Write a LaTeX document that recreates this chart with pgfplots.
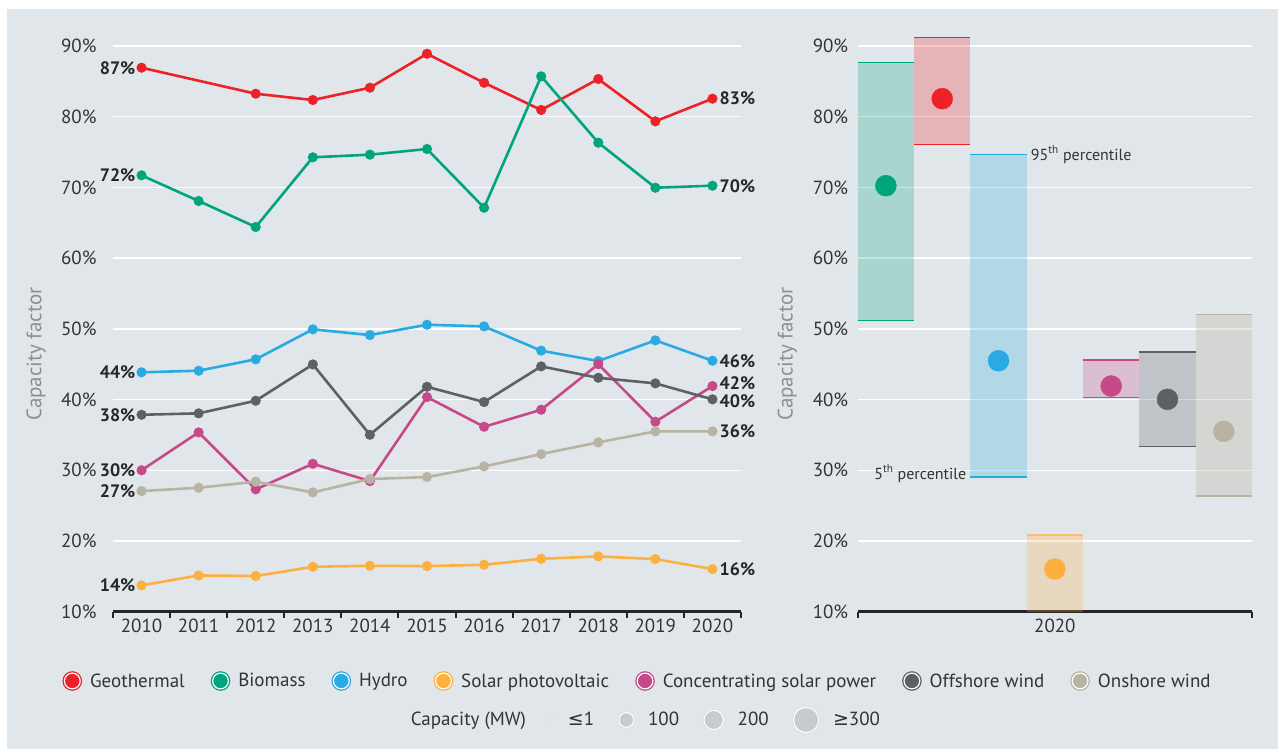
\documentclass[border=0pt]{standalone}
\usepackage{pgfplots}
\pgfplotsset{compat=1.18}
\usepackage{fontspec}
\setmainfont{PT Sans}
\newfontfamily\symf{DejaVu Sans}
\definecolor{bg}{HTML}{E1E6EA}
\definecolor{geo}{HTML}{ED2228}
\definecolor{bio}{HTML}{00A57D}
\definecolor{hyd}{HTML}{29ABE2}
\definecolor{sol}{HTML}{FBB040}
\definecolor{csp}{HTML}{C8498A}
\definecolor{off}{HTML}{5E6064}
\definecolor{ons}{HTML}{B8B4A4}
\definecolor{tickc}{HTML}{333333}
\definecolor{labc}{HTML}{8A8F94}
\definecolor{axc}{HTML}{262626}
\definecolor{capc}{HTML}{C9CACC}
\newcommand{\tf}{\fontsize{19}{22}\selectfont}
\newcommand{\bfl}{\fontsize{18}{21}\selectfont\bfseries}
\begin{document}
\begin{tikzpicture}[x=1pt,y=1pt]
\fill[white] (0,0) rectangle (1279,749);
\fill[bg] (7,0) rectangle (1278,740);
\pgfplotsset{
  common/.style={
    scale only axis, height=565.7pt, ymin=10, ymax=90, clip=false,
    axis x line=bottom, axis y line=left,
    x axis line style={-, line width=3pt, color=axc},
    y axis line style={draw=none},
    ytick={10,20,...,90},
    yticklabel={\pgfmathprintnumber{\tick}\%},
    /pgf/number format/assume math mode=true,
    /pgf/number format/1000 sep={},
    tick label style={font=\tf, text=tickc},
    ymajorgrids, grid style={white, line width=1.5pt},
    major tick length=0pt, minor tick length=6pt, tick align=outside,
    minor x tick style={line width=2pt, color=axc},
    xticklabel style={yshift=-4pt},
  }
}
\begin{axis}[common,
  at={(113pt,137.3pt)}, anchor=south west, width=628pt,
  xmin=2009.5, xmax=2020.5,
  xtick={2010,...,2020},
  minor xtick={2009.5,2010.5,...,2020.5},
  yticklabel style={xshift=-13pt},
  legend image code/.code={\fill (8.5pt,0pt) circle (8.5pt); \draw[white,line width=1.2pt] (8.5pt,0pt) circle (7.9pt);},
  legend style={at={(axis description cs:-0.0804,-0.1225)}, anchor=west, draw=none, fill=none,
    inner sep=0pt, outer sep=0pt, font=\tf, text=tickc, legend columns=-1,
    /tikz/every even column/.append style={column sep=24pt},
    /tikz/every odd column/.append style={column sep=6pt}},
  legend cell align=left,
  every axis plot/.append style={line width=2.6pt, mark=*, mark size=3.7pt},
]
\addplot[color=geo] coordinates {(2010,86.93)(2012,83.25)(2013,82.36)(2014,84.1)(2015,88.9)(2016,84.8)(2017,80.95)(2018,85.33)(2019,79.35)(2020,82.55)};
\addlegendentry{Geothermal}
\addplot[color=bio] coordinates {(2010,71.71)(2011,68.08)(2012,64.4)(2013,74.26)(2014,74.63)(2015,75.43)(2016,67.13)(2017,85.71)(2018,76.33)(2019,69.96)(2020,70.24)};
\addlegendentry{Biomass}
\addplot[color=hyd] coordinates {(2010,43.85)(2011,44.08)(2012,45.69)(2013,49.93)(2014,49.12)(2015,50.58)(2016,50.35)(2017,46.91)(2018,45.45)(2019,48.37)(2020,45.49)};
\addlegendentry{Hydro}
\addplot[color=sol] coordinates {(2010,13.72)(2011,15.13)(2012,15.04)(2013,16.35)(2014,16.49)(2015,16.45)(2016,16.64)(2017,17.48)(2018,17.82)(2019,17.44)(2020,16.03)};
\addlegendentry{Solar photovoltaic}
\addplot[color=csp] coordinates {(2010,30.0)(2011,35.36)(2012,27.3)(2013,30.92)(2014,28.47)(2015,40.35)(2016,36.15)(2017,38.56)(2018,45.0)(2019,36.86)(2020,41.91)};
\addlegendentry{Concentrating solar power}
\addplot[color=off] coordinates {(2010,37.85)(2011,38.05)(2012,39.83)(2013,44.97)(2014,35.02)(2015,41.81)(2016,39.65)(2017,44.69)(2018,43.08)(2019,42.29)(2020,40.03)};
\addlegendentry{Offshore wind}
\addplot[color=ons] coordinates {(2010,27.06)(2011,27.53)(2012,28.38)(2013,26.87)(2014,28.76)(2015,29.04)(2016,30.55)(2017,32.29)(2018,33.94)(2019,35.5)(2020,35.5)};
\addlegendentry{Onshore wind}
% end labels
\begin{scope}[every node/.style={inner sep=0pt, font=\bfl, text=black!85}]
\node[anchor=east, xshift=-6pt] at (axis cs:2010,86.93) {87\%};
\node[anchor=east, xshift=-6pt] at (axis cs:2010,71.71) {72\%};
\node[anchor=east, xshift=-6pt] at (axis cs:2010,43.85) {44\%};
\node[anchor=east, xshift=-6pt] at (axis cs:2010,37.85) {38\%};
\node[anchor=east, xshift=-6pt] at (axis cs:2010,30.0) {30\%};
\node[anchor=east, xshift=-6pt] at (axis cs:2010,27.0) {27\%};
\node[anchor=east, xshift=-6pt] at (axis cs:2010,13.72) {14\%};
\node[anchor=west, xshift=7pt] at (axis cs:2020,82.55) {83\%};
\node[anchor=west, xshift=7pt] at (axis cs:2020,70.24) {70\%};
\node[anchor=west, xshift=7pt] at (axis cs:2020,45.49) {46\%};
\node[anchor=west, xshift=7pt] at (axis cs:2020,42.3) {42\%};
\node[anchor=west, xshift=7pt] at (axis cs:2020,39.8) {40\%};
\node[anchor=west, xshift=7pt] at (axis cs:2020,35.5) {36\%};
\node[anchor=west, xshift=7pt] at (axis cs:2020,16.03) {16\%};
\end{scope}
\node[rotate=90, font=\fontsize{21}{24}\selectfont, text=labc] at (axis description cs:-0.1226,0.4557) {Capacity factor};
\end{axis}

\begin{axis}[common,
  at={(857.7pt,137.3pt)}, anchor=south west, width=394.3pt,
  xmin=0, xmax=7,
  xtick={3.5}, xticklabels={2020},
  minor xtick={0,7},
  yticklabel style={xshift=-6pt},
  legend style={at={(axis description cs:-1.1673,-0.1914)}, anchor=west, draw=none, fill=none,
    inner sep=0pt, outer sep=0pt, font=\tf, text=tickc, legend columns=-1,
    /tikz/every even column/.append style={column sep=22pt},
    /tikz/every odd column/.append style={column sep=11.5pt}},
  legend cell align=left,
]
\addlegendimage{empty legend}
\addlegendentry{Capacity (MW)}
\addlegendimage{legend image code/.code={\fill[capc] (2pt,0pt) circle (2pt); \draw[white,line width=0.6pt] (2pt,0pt) circle (1.7pt);}}
\addlegendentry{{\symf ≤}1}
\addlegendimage{legend image code/.code={\fill[capc] (8pt,0pt) circle (8pt); \draw[white,line width=1.2pt] (8pt,0pt) circle (7.4pt);}}
\addlegendentry{100}
\addlegendimage{legend image code/.code={\fill[capc] (10.3pt,0pt) circle (10.3pt); \draw[white,line width=1.2pt] (10.3pt,0pt) circle (9.7pt);}}
\addlegendentry{200}
\addlegendimage{legend image code/.code={\fill[capc] (13.2pt,0pt) circle (13.2pt); \draw[white,line width=1.2pt] (13.2pt,0pt) circle (12.6pt);}}
\addlegendentry{{\symf ≥}300}
% ranges (5th-95th percentile)
\addplot[fill=bio, fill opacity=0.25, draw=none] coordinates {(0,51.15)(0,87.69)(1,87.69)(1,51.15)} --cycle;
\addplot[fill=geo, fill opacity=0.25, draw=none] coordinates {(1,76.1)(1,91.17)(2,91.17)(2,76.1)} --cycle;
\addplot[fill=hyd, fill opacity=0.25, draw=none] coordinates {(2,29.08)(2,74.63)(3,74.63)(3,29.08)} --cycle;
\addplot[fill=sol, fill opacity=0.25, draw=none] coordinates {(3,10)(3,20.83)(4,20.83)(4,10)} --cycle;
\addplot[fill=csp, fill opacity=0.25, draw=none] coordinates {(4,40.31)(4,45.59)(5,45.59)(5,40.31)} --cycle;
\addplot[fill=off, fill opacity=0.25, draw=none] coordinates {(5,33.38)(5,46.72)(6,46.72)(6,33.38)} --cycle;
\addplot[fill=ons, fill opacity=0.3, draw=none] coordinates {(6,26.39)(6,52.05)(7,52.05)(7,26.39)} --cycle;
\begin{scope}[line width=1.5pt]
\addplot[bio] coordinates {(0,87.69)(1,87.69)};
\addplot[bio] coordinates {(0,51.15)(1,51.15)};
\addplot[geo] coordinates {(1,91.17)(2,91.17)};
\addplot[geo] coordinates {(1,76.1)(2,76.1)};
\addplot[hyd] coordinates {(2,74.63)(3,74.63)};
\addplot[hyd] coordinates {(2,29.08)(3,29.08)};
\addplot[sol!80!white] coordinates {(3,20.83)(4,20.83)};
\addplot[csp] coordinates {(4,45.59)(5,45.59)};
\addplot[csp] coordinates {(4,40.31)(5,40.31)};
\addplot[off] coordinates {(5,46.72)(6,46.72)};
\addplot[off] coordinates {(5,33.38)(6,33.38)};
\addplot[ons] coordinates {(6,52.05)(7,52.05)};
\addplot[ons] coordinates {(6,26.39)(7,26.39)};
\end{scope}
\addplot[only marks, mark=*, mark size=10.5pt, color=bio] coordinates {(0.5,70.24)};
\addplot[only marks, mark=*, mark size=10.5pt, color=geo] coordinates {(1.5,82.55)};
\addplot[only marks, mark=*, mark size=10.5pt, color=hyd] coordinates {(2.5,45.49)};
\addplot[only marks, mark=*, mark size=10.5pt, color=sol] coordinates {(3.5,16.03)};
\addplot[only marks, mark=*, mark size=10.5pt, color=csp] coordinates {(4.5,41.91)};
\addplot[only marks, mark=*, mark size=10.5pt, color=off] coordinates {(5.5,40.03)};
\addplot[only marks, mark=*, mark size=10.5pt, color=ons] coordinates {(6.5,35.5)};
\node[anchor=west, inner sep=0pt, xshift=4pt, font=\fontsize{16}{19}\selectfont, text=tickc] at (axis cs:3,74.63) {95\textsuperscript{th} percentile};
\node[anchor=east, inner sep=0pt, xshift=-4pt, yshift=3pt, font=\fontsize{16}{19}\selectfont, text=tickc] at (axis cs:2,29.08) {5\textsuperscript{th} percentile};
\node[rotate=90, font=\fontsize{21}{24}\selectfont, text=labc] at (axis description cs:-0.1785,0.4557) {Capacity factor};
\end{axis}
\end{tikzpicture}
\end{document}
